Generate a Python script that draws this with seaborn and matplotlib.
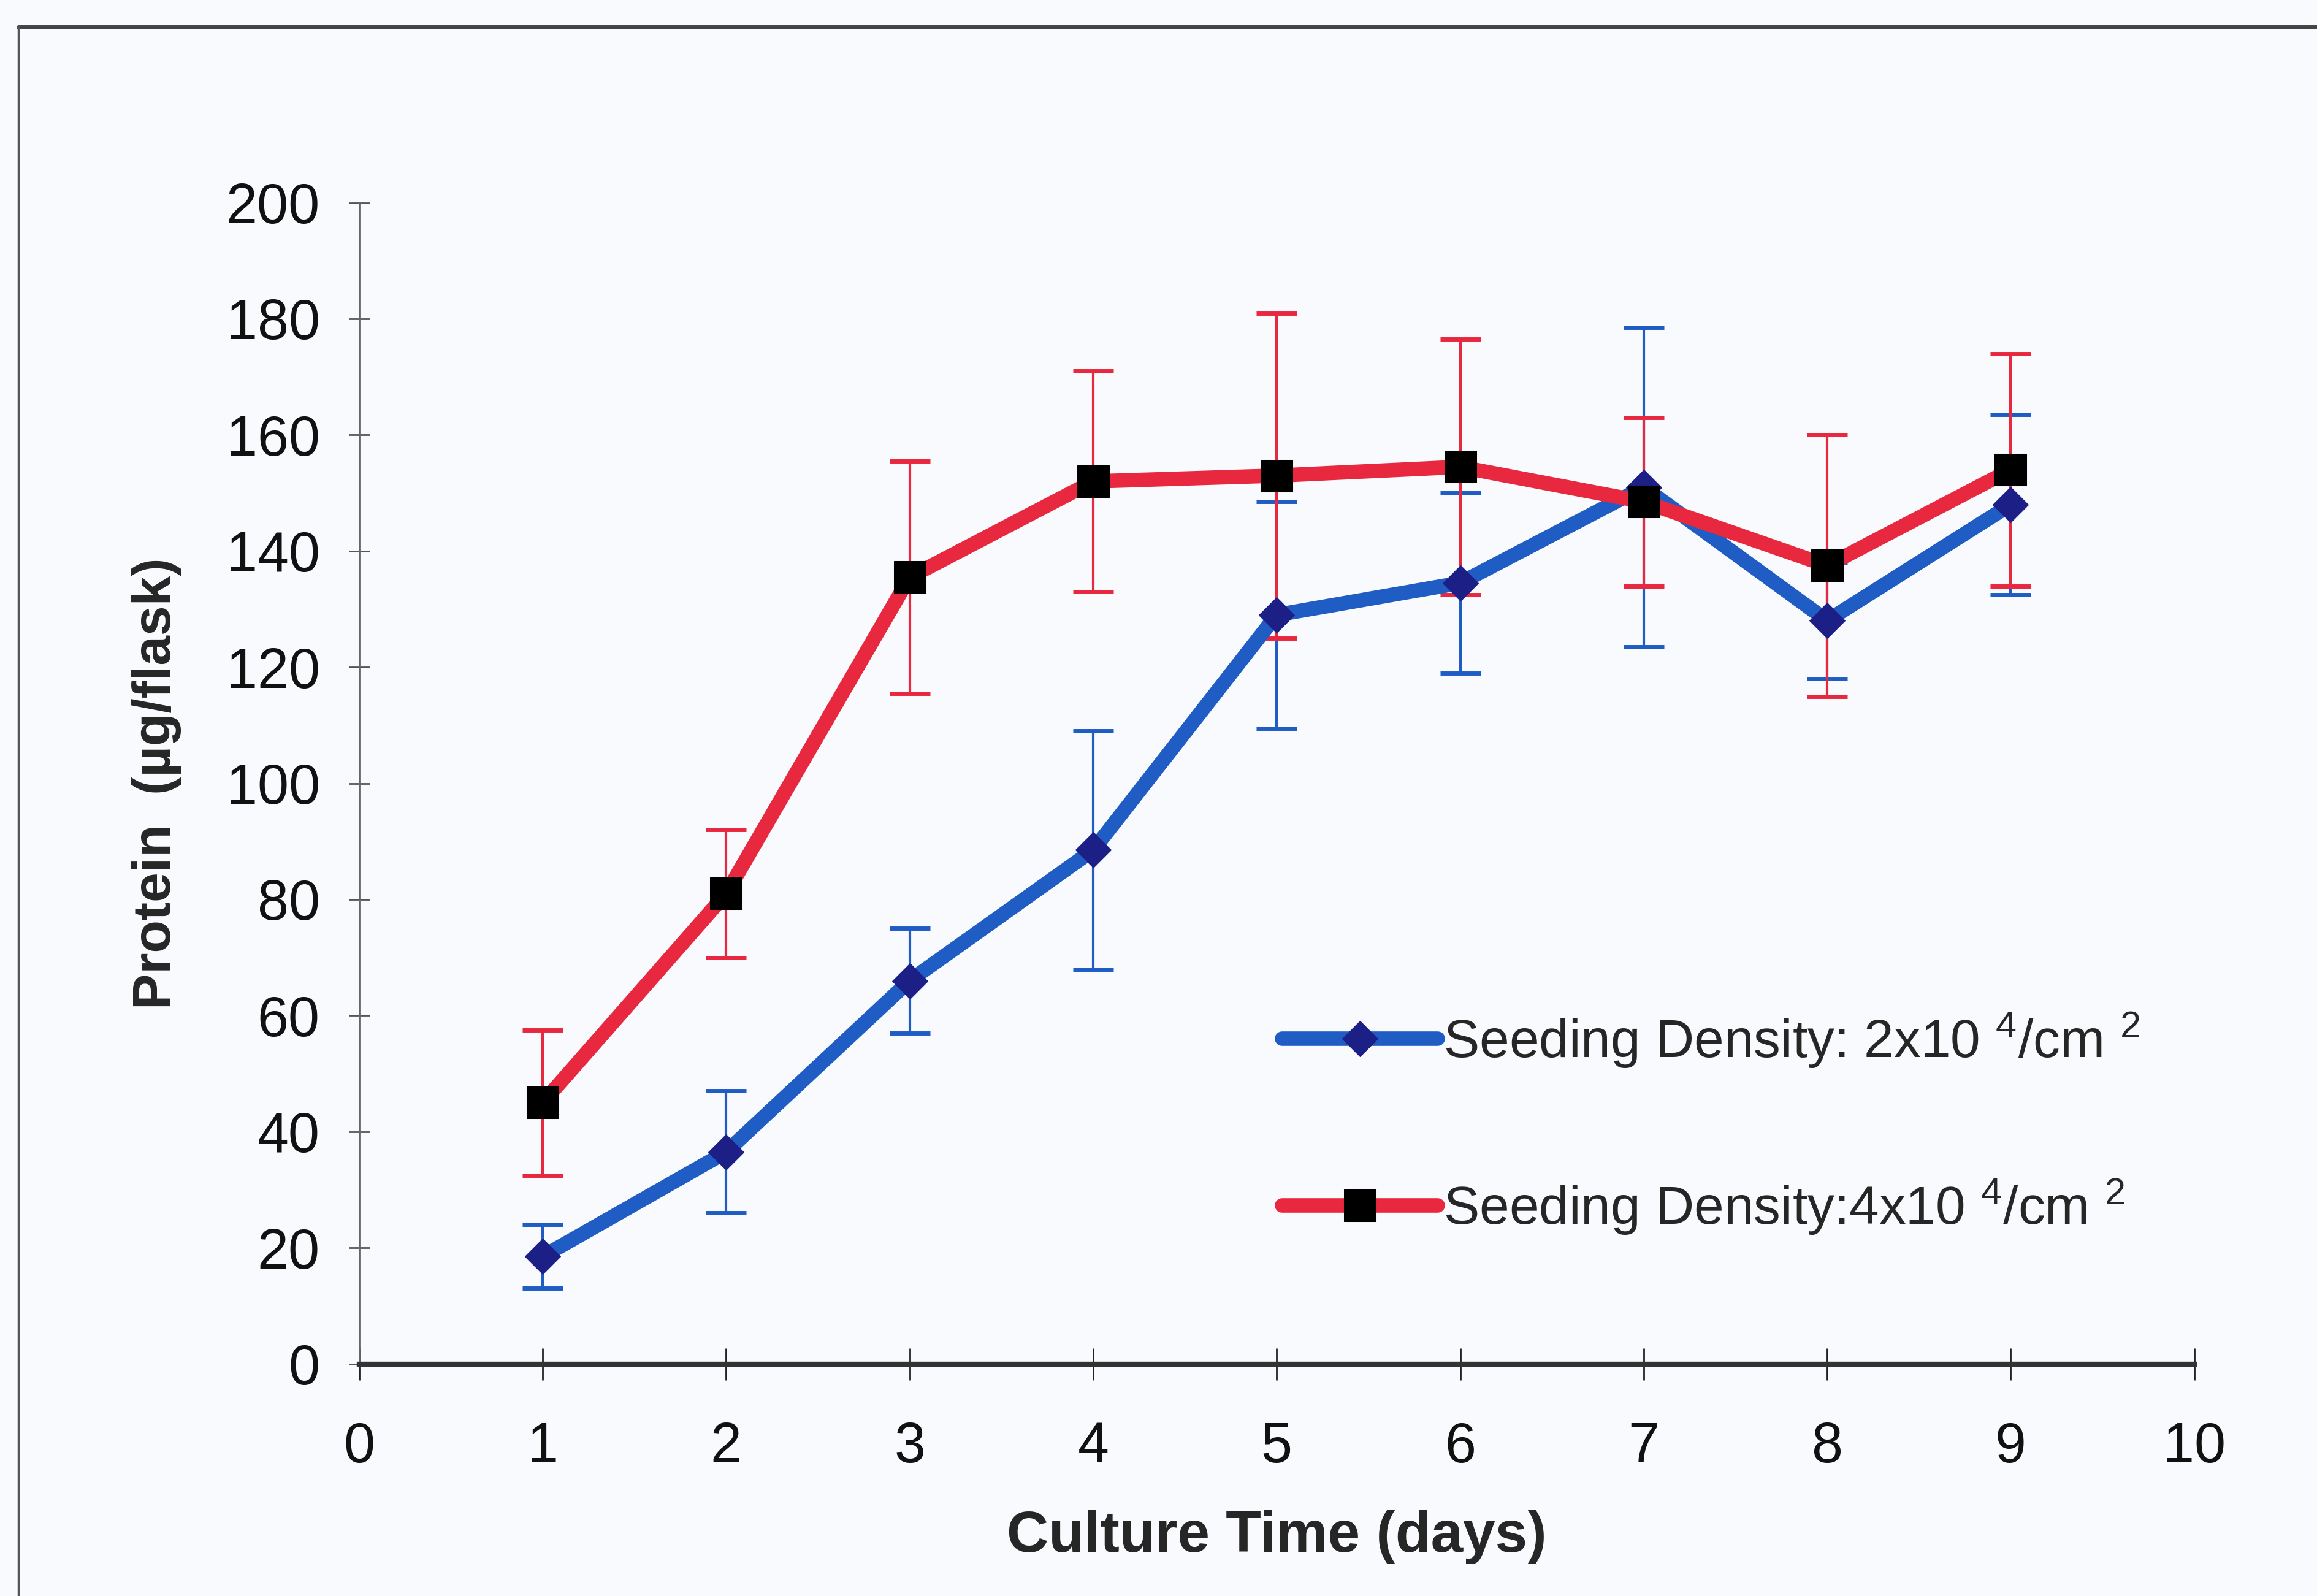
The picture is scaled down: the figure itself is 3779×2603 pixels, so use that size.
import seaborn as sns
import pandas as pd
import matplotlib.pyplot as plt
from matplotlib.lines import Line2D

# data
days = [1, 2, 3, 4, 5, 6, 7, 8, 9]
low_mean = [18.5, 36.5, 66, 88.5, 129, 134.5, 151, 128, 148]
low_err = [5.5, 10.5, 9, 20.5, 19.5, 15.5, 27.5, 10, 15.5]
high_mean = [45, 81, 135.5, 152, 153, 154.5, 148.5, 137.5, 154]
high_err = [12.5, 11, 20, 19, 28, 22, 14.5, 22.5, 20]
low_label = r"Seeding Density: 2x10 $^{4}$/cm $^{2}$"
high_label = r"Seeding Density:4x10 $^{4}$/cm $^{2}$"
x_ticks = list(range(0, 11))
y_ticks = list(range(0, 201, 20))

blue = "#1f5cc4"
navy = "#1c1f86"
red = "#e8283f"

sns.set_theme(style="white")
plt.rcParams['font.family'] = ['Liberation Sans', 'DejaVu Sans']
plt.rcParams['mathtext.fontset'] = 'custom'
plt.rcParams['mathtext.rm'] = 'Liberation Sans'
plt.rcParams['mathtext.it'] = 'Liberation Sans'

df_low = pd.DataFrame({"day": days, "protein": low_mean})
df_high = pd.DataFrame({"day": days, "protein": high_mean})

fig = plt.figure(figsize=(37.79, 26.03), dpi=100, facecolor="#f8fafd")
ax = fig.add_axes([0.155, 0.1454, 0.792, 0.7276])
ax.set_facecolor("#f8fafd")

ax.errorbar(days, low_mean, yerr=low_err, fmt='none', ecolor=blue,
            elinewidth=3, capsize=24, capthick=5, zorder=2)
ax.errorbar(days, high_mean, yerr=high_err, fmt='none', ecolor=red,
            elinewidth=3, capsize=24, capthick=5, zorder=2)

sns.lineplot(data=df_low, x="day", y="protein", ax=ax, color=blue,
             linewidth=17, marker="D", markersize=30, markerfacecolor=navy,
             markeredgecolor=navy, label=low_label, zorder=3)
sns.lineplot(data=df_high, x="day", y="protein", ax=ax, color=red,
             linewidth=17, marker="s", markersize=37, markerfacecolor="black",
             markeredgecolor="black", label=high_label, zorder=4)

ax.set_xlim(0, 10)
ax.set_ylim(0, 200)
ax.set_xticks(x_ticks)
ax.set_yticks(y_ticks)
ax.tick_params(axis='x', direction='inout', length=38, width=2, colors="#222222",
               labelsize=66, pad=48, bottom=True, labelcolor="#111111")
ax.tick_params(axis='y', direction='inout', length=24, width=2, colors="#555555",
               labelsize=66, pad=34, left=True, labelcolor="#111111")

for s in ["top", "right"]:
    ax.spines[s].set_visible(False)
ax.spines["left"].set_color("#666666")
ax.spines["left"].set_linewidth(2)
ax.spines["bottom"].set_color("#333333")
ax.spines["bottom"].set_linewidth(6)

ax.set_xlabel("Culture Time (days)", fontsize=68, fontweight="bold", labelpad=42)
ax.set_ylabel("Protein  (µg/flask)", fontsize=63, fontweight="bold", labelpad=52)

ax.legend(loc="center left", bbox_to_anchor=(0.503, 0.207), frameon=False,
          fontsize=63, handlelength=2.9, handletextpad=0.1, labelspacing=2.0,
          borderaxespad=0, borderpad=0)

# scanned page border
fig.add_artist(Line2D([0.008, 1.0], [0.983, 0.983], color="#444444", linewidth=5))
fig.add_artist(Line2D([0.008, 0.008], [0.0, 0.983], color="#555555", linewidth=2.5))

fig.savefig("out.png", dpi=100, facecolor=fig.get_facecolor())
